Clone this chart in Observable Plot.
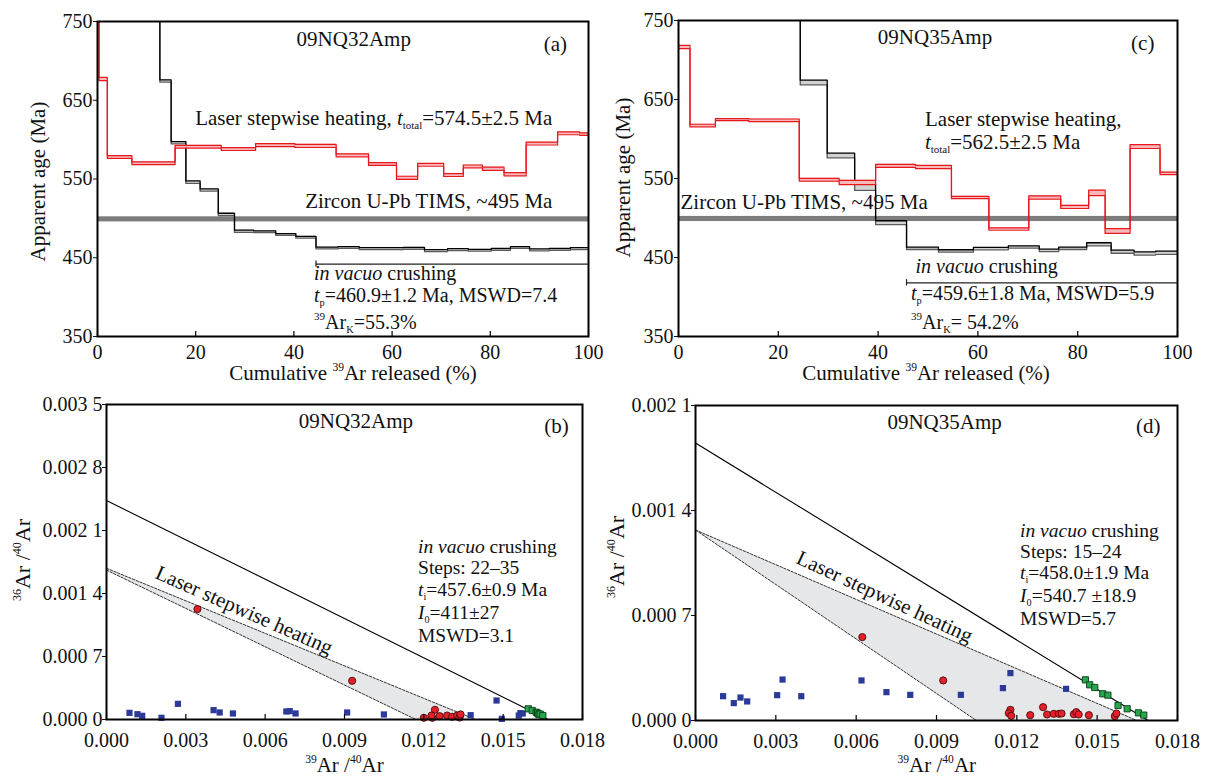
<!DOCTYPE html>
<html><head><meta charset="utf-8">
<script src="https://cdn.jsdelivr.net/npm/d3@7"></script>
<script src="https://cdn.jsdelivr.net/npm/@observablehq/plot@0.6"></script>
<style>
body{margin:0;background:#fff;}
#wrap{position:relative;width:1207px;height:776px;overflow:hidden;background:#fff;}
#wrap svg{position:absolute;overflow:visible;}
</style></head><body><div id="wrap"></div>
<script>
// ================= DATA =================
// Panel (a) 09NQ32Amp age spectra (cumulative 39Ar %, apparent age Ma)
const aLaserEdges = [0, 0.3, 2.0, 7.0, 15.8, 25.2, 32.2, 40.2, 48.6, 55.2, 60.9, 65.2, 70.5, 74.5, 78.4, 82.8, 87.3, 93.7, 98.2, 100];
const aLaserAge   = [780, 677, 578, 570, 591, 588, 593, 592, 580, 569, 551.5, 568, 555, 566, 563, 556, 595, 608, 607];
const aLaserErr   = [3, 2, 1.8, 1.8, 1.8, 1.8, 2, 2, 1.8, 1.8, 2, 1.8, 1.8, 1.8, 2, 2, 1.8, 1.8, 1.5];
const aCrushEdges = [0, 12.7, 15.0, 18.0, 20.9, 24.6, 27.9, 31.8, 36.3, 40.4, 44.5, 49.0, 53.3, 58.0, 62.3, 66.6, 71.3, 75.5, 80.2, 84.1, 88.0, 92.0, 96.3, 100];
const aCrushAge   = [800, 674.5, 596, 546, 536, 505, 483.6, 483, 479.5, 476, 462.4, 463, 461.6, 461.6, 462, 459, 460.3, 459.5, 460.7, 463, 460, 460.7, 461.6];
const aCrushErr   = [2, 1.5, 1.5, 1.5, 1.5, 1.5, 1.5, 1.2, 1.2, 1.2, 1.2, 1.2, 1.2, 1.2, 1.2, 1.2, 1.2, 1.2, 1.2, 1.2, 1.2, 1.2, 1.2];
const aPlateauSpan = [44.5, 100];
const aPlateauLevel = 442;

// Panel (c) 09NQ35Amp age spectra
const cLaserEdges = [0, 2.3, 7.4, 14.1, 24.2, 32.2, 39.5, 47.5, 54.7, 62.2, 70.2, 76.6, 82.2, 85.5, 90.5, 96.5, 100];
const cLaserAge   = [716.5, 617, 624.5, 623.6, 548.5, 545, 566, 564.5, 526, 486, 526, 514, 531.7, 483.5, 590.5, 556.5];
const cLaserErr   = [2, 1.7, 1.3, 1.7, 1.7, 2.7, 2, 2, 1.5, 1.5, 2, 2, 3.5, 3, 2.5, 1.5];
const cCrushEdges = [0, 24.4, 29.8, 35.3, 39.5, 45.7, 52.1, 59.1, 66.1, 72.3, 76.2, 81.8, 86.7, 91.3, 95.6, 100];
const cCrushAge   = [800, 671.5, 579, 539, 494, 461.6, 458.3, 461.2, 463.3, 459, 461.6, 466.7, 457.4, 455, 456];
const cCrushErr   = [3, 3, 3, 4, 2.5, 1.5, 1.5, 1.5, 1.5, 1.5, 1.5, 2, 2, 2, 2];
const cPlateauSpan = [45.7, 100];
const cPlateauLevel = 418;

const zirconBand = [495.5, 502];          // Zircon U-Pb TIMS ~495 Ma
const ageTicks = [350, 450, 550, 650, 750];
const cumTicks = [0, 20, 40, 60, 80, 100];

// Panel (b) 09NQ32Amp inverse isochron (39Ar/40Ar, 36Ar/40Ar)
const bLaserX = [0.00344, 0.00929, 0.01242, 0.01200, 0.01232, 0.01229, 0.01260, 0.01288, 0.01307, 0.01326, 0.01335, 0.01339];
const bLaserY = [0.001227, 0.00043, 0.000108, 0.000019, 0.000019, 0.000044, 0.000037, 0.000044, 0.000030, 0.000044, 0.000022, 0.000056];
const bCrushX = [0.00087, 0.00117, 0.00135, 0.00208, 0.0027, 0.00405, 0.00428, 0.00478, 0.0068, 0.00693, 0.00715, 0.0091, 0.01049, 0.01377, 0.01475, 0.01495, 0.01559, 0.01565, 0.01574];
const bCrushY = [0.000074, 0.000059, 0.000041, 0.000019, 0.000174, 0.000104, 0.000078, 0.000067, 0.000089, 0.000093, 0.000067, 0.000078, 0.000056, 0.000048, 0.000211, 0.000007, 0.000044, 0.00007, 0.000067];
const bFitX = [0.01595, 0.0161, 0.01625, 0.0163, 0.01635, 0.0164, 0.0165];
const bFitY = [0.000119, 0.0001, 0.000081, 0.00007, 0.000056, 0.00006, 0.000044];
const bIsoX = [0, 0.0167];
const bIsoY = [0.002433, 0];
const bEnvX = [0, 0.01395, 0.0117, 0];
const bEnvY = [0.00168, 0, 0, 0.00166];
const bYTicks = [0, 0.0007, 0.0014, 0.0021, 0.0028, 0.0035];

// Panel (d) 09NQ35Amp inverse isochron
const dLaserX = [0.00623, 0.00925, 0.01176, 0.0117, 0.01179, 0.0125, 0.01298, 0.01313, 0.01338, 0.01357, 0.01367, 0.01413, 0.01422, 0.01431, 0.01469, 0.01566, 0.01572];
const dLaserY = [0.000556, 0.000267, 0.0000711, 0.0000489, 0.0000311, 0.0000356, 0.0000889, 0.00004, 0.0000444, 0.0000444, 0.0000467, 0.000042, 0.0000556, 0.00004, 0.0000356, 0.0000289, 0.0000467];
const dCrushX = [0.00103, 0.00143, 0.00168, 0.00193, 0.00305, 0.00325, 0.00395, 0.0062, 0.00713, 0.00802, 0.00991, 0.01148, 0.01176, 0.01384];
const dCrushY = [0.000162, 0.000116, 0.000153, 0.000127, 0.000169, 0.000273, 0.000162, 0.000267, 0.000189, 0.000171, 0.000171, 0.000216, 0.000316, 0.000211];
const dFitX = [0.01456, 0.01472, 0.01491, 0.01521, 0.0154, 0.01578, 0.01612, 0.01654, 0.01674];
const dFitY = [0.000271, 0.000238, 0.00022, 0.000178, 0.000169, 0.0001, 0.000078, 0.000051, 0.000036];
const dIsoX = [0, 0.0169];
const dIsoY = [0.00185, 0];
const dEnvX = [0, 0.01648, 0.01049, 0];
const dEnvY = [0.00127, 0, 0, 0.00127];
const dYTicks = [0, 0.0007, 0.0014, 0.0021];

const ratioTicks = [0, 0.003, 0.006, 0.009, 0.012, 0.015, 0.018];

// Text annotations (data coordinates)
const annA = [
  {x: 52.3, y: 718, anchor: "middle", parts: ["09NQ32Amp"]},
  {x: 91, y: 712, parts: ["(a)"]},
  {x: 20.0, y: 618, parts: ["Laser stepwise heating, ", {t: "t", i: 1}, {t: "total", sub: 1}, "=574.5±2.5 Ma"]},
  {x: 42.4, y: 512, parts: ["Zircon U-Pb TIMS, ~495 Ma"]},
  {x: 44.2, y: 421, size: 20, parts: [{t: "in vacuo", i: 1}, " crushing"]},
  {x: 44.2, y: 393.6, size: 20, parts: [{t: "t", i: 1}, {t: "p", sub: 1}, "=460.9±1.2 Ma, MSWD=7.4"]},
  {x: 44.2, y: 359.2, size: 20, parts: [{t: "39", sup: 1}, "Ar", {t: "K", sub: 1}, "=55.3%"]}
];
const annC = [
  {x: 51.5, y: 719.6, anchor: "middle", parts: ["09NQ35Amp"]},
  {x: 90.8, y: 712, parts: ["(c)"]},
  {x: 49.5, y: 615.8, parts: ["Laser stepwise heating,"]},
  {x: 49.5, y: 587.0, parts: [{t: "t", i: 1}, {t: "total", sub: 1}, "=562.5±2.5 Ma"]},
  {x: 0.5, y: 510.4, parts: ["Zircon U-Pb TIMS, ~495 Ma"]},
  {x: 47.6, y: 430, size: 20, parts: [{t: "in vacuo", i: 1}, " crushing"]},
  {x: 46.7, y: 396, size: 20, parts: [{t: "t", i: 1}, {t: "p", sub: 1}, "=459.6±1.8 Ma, MSWD=5.9"]},
  {x: 46.7, y: 359.2, size: 20, parts: [{t: "39", sup: 1}, "Ar", {t: "K", sub: 1}, "= 54.2%"]}
];
const annB = [
  {x: 0.00945, y: 0.003237, anchor: "middle", parts: ["09NQ32Amp"]},
  {x: 0.01657, y: 0.00318, parts: ["(b)"]},
  {x: 0.0118, y: 0.001841, size: 19.5, parts: [{t: "in vacuo", i: 1}, " crushing"]},
  {x: 0.0118, y: 0.001606, size: 19.5, parts: ["Steps: 22–35"]},
  {x: 0.0118, y: 0.001371, size: 19.5, parts: [{t: "t", i: 1}, {t: "i", sub: 1}, "=457.6±0.9 Ma"]},
  {x: 0.0118, y: 0.001114, size: 19.5, parts: [{t: "I", i: 1}, {t: "0", sub: 1}, "=411±27"]},
  {x: 0.0118, y: 0.000859, size: 19.5, parts: ["MSWD=3.1"]},
  {x: 0.00512, y: 0.00114, anchor: "middle", along: true, parts: ["Laser stepwise heating"]}
];
const annD = [
  {x: 0.00932, y: 0.001938, anchor: "middle", parts: ["09NQ35Amp"]},
  {x: 0.01647, y: 0.001915, parts: ["(d)"]},
  {x: 0.01214, y: 0.001222, size: 19.5, parts: [{t: "in vacuo", i: 1}, " crushing"]},
  {x: 0.01214, y: 0.001081, size: 19.5, parts: ["Steps: 15–24"]},
  {x: 0.01214, y: 0.000940, size: 19.5, parts: [{t: "t", i: 1}, {t: "i", sub: 1}, "=458.0±1.9 Ma"]},
  {x: 0.01214, y: 0.000787, size: 19.5, parts: [{t: "I", i: 1}, {t: "0", sub: 1}, "=540.7 ±18.9"]},
  {x: 0.01214, y: 0.000633, size: 19.5, parts: ["MSWD=5.7"]},
  {x: 0.00698, y: 0.00078, anchor: "middle", along: true, parts: ["Laser stepwise heating"]}
];

// ================= DRAWING =================
const FONT = '"Liberation Serif","Times New Roman",Times,serif';
const wrap = document.getElementById("wrap");

function place(svg, left, top) {
  svg.style.left = left + "px";
  svg.style.top = top + "px";
  wrap.appendChild(svg);
}
function scaler(plot, name) {
  const s = plot.scale(name);
  return s.apply ? (v => s.apply(v)) : d3.scaleLinear(s.domain, s.range);
}
function rich(svg, x, y, parts, opt = {}) {
  const size = opt.size || 21;
  const t = d3.select(svg).append("text")
    .attr("x", x).attr("y", y)
    .attr("text-anchor", opt.anchor || "start")
    .attr("font-family", FONT).attr("font-size", size).attr("fill", "#111");
  if (opt.rotate) t.attr("transform", `rotate(${opt.rotate},${x},${y})`);
  let shift = 0;
  for (const p of parts) {
    const s = typeof p === "string" ? {t: p} : p;
    const ts = t.append("tspan").text(s.t);
    let target = 0, fs = size;
    if (s.sub) { target = size * 0.2; fs = size * 0.52; }
    if (s.sup) { target = -size * 0.42; fs = size * 0.55; }
    if (target !== shift) { ts.attr("dy", target - shift); shift = target; }
    if (fs !== size) ts.attr("font-size", fs);
    if (s.i) ts.attr("font-style", "italic");
  }
  return t;
}
function stepRows(edges, ages, errs) {
  const rows = ages.map((a, i) => ({x: edges[i], hi: a + errs[i], lo: a - errs[i]}));
  const n = ages.length;
  rows.push({x: edges[n], hi: ages[n - 1] + errs[n - 1], lo: ages[n - 1] - errs[n - 1]});
  return rows;
}
const baseStyle = {fontFamily: FONT, fontSize: "20px", color: "#111", background: "transparent", overflow: "visible"};

function spectrum(cfg) {
  const {width, height, mt, mr, mb, ml, laser, crush, span, level} = cfg;
  const innerH = height - mt - mb;
  const zr = [{y1: zirconBand[0], y2: zirconBand[1], x1: cumTicks[0], x2: cumTicks[cumTicks.length - 1]}];
  return Plot.plot({
    width, height, marginTop: mt, marginRight: mr, marginBottom: mb, marginLeft: ml,
    style: baseStyle,
    x: {domain: [0, 100], ticks: cumTicks, tickSize: 0, tickPadding: 8, label: null},
    y: {domain: [350, 750], ticks: ageTicks, tickSize: 4, tickPadding: 1, label: null},
    marks: [
      Plot.rect(zr, {x1: "x1", x2: "x2", y1: "y1", y2: "y2", fill: "#7c7c7c"}),
      Plot.areaY(crush, {x: "x", y1: "lo", y2: "hi", curve: "step-after", fill: "#d2d2d2", clip: true}),
      Plot.line(crush, {x: "x", y: "lo", curve: "step-after", stroke: "#5a5a5a", strokeWidth: 1.3, clip: true}),
      Plot.line(crush, {x: "x", y: "hi", curve: "step-after", stroke: "#000", strokeWidth: 1.3, clip: true}),
      Plot.areaY(laser, {x: "x", y1: "lo", y2: "hi", curve: "step-after", fill: "#f7b8b8", clip: true}),
      Plot.line(laser, {x: "x", y: "lo", curve: "step-after", stroke: "#e8161d", strokeWidth: 1.2, clip: true}),
      Plot.line(laser, {x: "x", y: "hi", curve: "step-after", stroke: "#e8161d", strokeWidth: 1.2, clip: true}),
      Plot.ruleY([{y: level, x1: span[0], x2: span[1]}], {y: "y", x1: "x1", x2: "x2", stroke: "#222", strokeWidth: 1.2}),
      Plot.ruleX([{x: span[0], y1: level - 4, y2: level + 4}], {x: "x", y1: "y1", y2: "y2", stroke: "#222", strokeWidth: 1.2}),
      Plot.tickX(cumTicks, {x: d => d, insetTop: innerH - 5, stroke: "#000", strokeWidth: 1.2}),
      Plot.frame({stroke: "#000", strokeWidth: 2})
    ]
  });
}

const fmt4 = d => { const s = d.toFixed(4); return s.slice(0, 5) + " " + s.slice(5); };
function zip(xs, ys) { return xs.map((x, i) => ({x, y: ys[i]})); }

function isochron(cfg) {
  const {width, height, mt, mr, mb, ml, yMax, yTicks, laser, crush, fit, iso, env} = cfg;
  const innerH = height - mt - mb;
  const upper = [env[0], env[1]], lower = [env[3], env[2]];
  return Plot.plot({
    width, height, marginTop: mt, marginRight: mr, marginBottom: mb, marginLeft: ml,
    style: baseStyle,
    x: {domain: [0, 0.018], ticks: ratioTicks, tickFormat: d => d.toFixed(3), tickSize: 0, tickPadding: 13, label: null},
    y: {domain: [0, yMax], ticks: yTicks, tickFormat: fmt4, tickSize: 4, tickPadding: 0, label: null},
    marks: [
      Plot.line(env, {x: "x", y: "y", fill: "#e6e7e9", stroke: "none"}),
      Plot.line(upper, {x: "x", y: "y", stroke: "#333", strokeWidth: 1, strokeDasharray: "2.5,1.5"}),
      Plot.line(lower, {x: "x", y: "y", stroke: "#333", strokeWidth: 1, strokeDasharray: "2.5,1.5"}),
      Plot.line(iso, {x: "x", y: "y", stroke: "#000", strokeWidth: 1.1}),
      Plot.dot(crush, {x: "x", y: "y", symbol: "square", r: 3.5, fill: "#2b3a98", stroke: "none"}),
      Plot.dot(laser, {x: "x", y: "y", r: 3.6, fill: "#e4202a", stroke: "#4a0a0a", strokeWidth: 0.9}),
      Plot.dot(fit, {x: "x", y: "y", symbol: "square", r: 3.5, fill: "#25a84c", stroke: "#0b3a17", strokeWidth: 0.9}),
      Plot.tickX(ratioTicks, {x: d => d, insetTop: innerH - 5, stroke: "#000", strokeWidth: 1.2}),
      Plot.frame({stroke: "#000", strokeWidth: 2})
    ]
  });
}

function annotate(plot, anns, envPts) {
  const sx = scaler(plot, "x"), sy = scaler(plot, "y");
  let ang = 0;
  if (envPts) {
    const p0 = [sx(envPts[0].x), sy(envPts[0].y)], p1 = [sx(envPts[1].x), sy(envPts[1].y)];
    ang = Math.atan2(p1[1] - p0[1], p1[0] - p0[0]) * 180 / Math.PI + 1.5;
  }
  for (const a of anns) {
    rich(plot, sx(a.x), sy(a.y), a.parts, {anchor: a.anchor, size: a.size, rotate: a.along ? ang : 0});
  }
}

// ---- Panel (a)
const pA = spectrum({width: 600, height: 395, mt: 21, mr: 12, mb: 59, ml: 97,
  laser: stepRows(aLaserEdges, aLaserAge, aLaserErr), crush: stepRows(aCrushEdges, aCrushAge, aCrushErr),
  span: aPlateauSpan, level: aPlateauLevel});
place(pA, 0, 0);
annotate(pA, annA);
rich(pA, 353, 380, ["Cumulative ", {t: "39", sup: 1}, "Ar released (%)"], {anchor: "middle"});
rich(pA, 45, 181.5, ["Apparent age (Ma)"], {anchor: "middle", rotate: -90});

// ---- Panel (c)
const pC = spectrum({width: 607, height: 395, mt: 20, mr: 30, mb: 59, ml: 78,
  laser: stepRows(cLaserEdges, cLaserAge, cLaserErr), crush: stepRows(cCrushEdges, cCrushAge, cCrushErr),
  span: cPlateauSpan, level: cPlateauLevel});
place(pC, 600, 0);
annotate(pC, annC);
rich(pC, 326, 380, ["Cumulative ", {t: "39", sup: 1}, "Ar released (%)"], {anchor: "middle"});
rich(pC, 29.5, 177.5, ["Apparent age (Ma)"], {anchor: "middle", rotate: -90});

// ---- Panel (b)
const bEnv = zip(bEnvX, bEnvY);
const pB = isochron({width: 600, height: 381, mt: 9, mr: 18, mb: 57, ml: 106, yMax: 0.0035, yTicks: bYTicks,
  laser: zip(bLaserX, bLaserY), crush: zip(bCrushX, bCrushY), fit: zip(bFitX, bFitY),
  iso: zip(bIsoX, bIsoY), env: bEnv});
place(pB, 0, 395);
annotate(pB, annB, bEnv);
rich(pB, 344.4, 376.7, [{t: "39", sup: 1}, "Ar /", {t: "40", sup: 1}, "Ar"], {anchor: "middle"});
rich(pB, 30, 165, [{t: "36", sup: 1}, "Ar /", {t: "40", sup: 1}, "Ar"], {anchor: "middle", rotate: -90, size: 22});

// ---- Panel (d)
const dEnv = zip(dEnvX, dEnvY);
const pD = isochron({width: 607, height: 381, mt: 10, mr: 30, mb: 56, ml: 95, yMax: 0.0021, yTicks: dYTicks,
  laser: zip(dLaserX, dLaserY), crush: zip(dCrushX, dCrushY), fit: zip(dFitX, dFitY),
  iso: zip(dIsoX, dIsoY), env: dEnv});
place(pD, 600, 395);
annotate(pD, annD, dEnv);
rich(pD, 336.8, 376.7, [{t: "39", sup: 1}, "Ar /", {t: "40", sup: 1}, "Ar"], {anchor: "middle"});
rich(pD, 24, 162, [{t: "36", sup: 1}, "Ar /", {t: "40", sup: 1}, "Ar"], {anchor: "middle", rotate: -90, size: 22});
</script>
</body></html>
